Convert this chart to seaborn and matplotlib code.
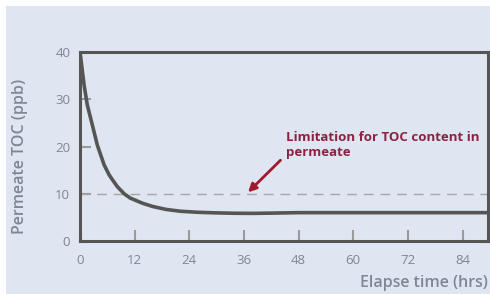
import numpy as np
import pandas as pd
import matplotlib.pyplot as plt
import seaborn as sns
from matplotlib.patches import Rectangle

# ===================== DATOS =====================
horas = [0, 0.9, 1.6, 2.7, 3.8, 5.3, 6.4, 7.1, 8.2, 9.7, 11, 13.7, 16, 18.8, 22,
         26, 30, 34, 38, 42, 48, 60, 72, 84, 90]
toc = [40, 33, 28.8, 24.6, 20.3, 16.1, 14.0, 13.0, 11.5, 10.0, 9.1, 8.0, 7.3, 6.7, 6.3,
       6.07, 5.95, 5.87, 5.85, 5.9, 6.0, 6.0, 6.0, 6.0, 6.0]
limite_toc = 10
xticks = [0, 12, 24, 36, 48, 60, 72, 84]
yticks = [0, 10, 20, 30, 40]

df = pd.DataFrame({"horas": horas, "toc": toc})

# ===================== ESTILO =====================
sns.set_style("white")
plt.rcParams["font.family"] = ["Open Sans", "DejaVu Sans"]

fondo = "#dfe6f1"
gris_txt = "#7d8796"
gris_tick = "#9a9a9a"
oscuro = "#555555"
granate = "#8a2442"

fig = plt.figure(figsize=(4.9, 2.94), dpi=100)
fig.patch.set_facecolor("white")
fig.patches.append(Rectangle((6 / 490, 0), 1, 1 - 6 / 294, transform=fig.transFigure,
                             facecolor=fondo, edgecolor="none", zorder=-5))

ax = fig.add_axes([80 / 490, 53 / 294, 408 / 490, 189 / 294])
ax.set_facecolor(fondo)

# ===================== GRAFICO =====================
ax.axhline(limite_toc, color="#a6a6a6", lw=1, dashes=(7, 5), zorder=1)
sns.lineplot(data=df, x="horas", y="toc", color=oscuro, lw=2.6, ax=ax, zorder=3)

ax.set_xlim(0, 89.6)
ax.set_ylim(0, 40)
ax.set_xticks(xticks)
ax.set_yticks(yticks)

for s in ax.spines.values():
    s.set_color(oscuro)
    s.set_linewidth(2.2)

ax.tick_params(axis="both", direction="in", length=8, width=1.5, color=gris_tick,
               labelcolor=gris_txt, labelsize=9.5, pad=7, bottom=True, left=True)
ax.tick_params(axis="x", pad=9)
# sin marca de tick en 0 ni 40
for t in ax.xaxis.get_major_ticks()[:1] + ax.yaxis.get_major_ticks()[:1] + ax.yaxis.get_major_ticks()[-1:]:
    t.tick1line.set_visible(False)

ax.set_xlabel("")
ax.set_ylabel("")
fig.text(488 / 490, 1 - 283 / 294, "Elapse time (hrs)", ha="right", va="center",
         color=gris_txt, fontsize=11.5, fontweight="semibold")
fig.text(20 / 490, 1 - 156 / 294, "Permeate TOC (ppb)", ha="center", va="center",
         rotation=90, color=gris_txt, fontsize=11.5, fontweight="semibold")

ax.annotate("Limitation for TOC content in\npermeate", xy=(36.9, 10.3), xytext=(45.3, 23.2),
            ha="left", va="top", color=granate, fontsize=9.5, fontweight="bold",
            linespacing=1.15,
            arrowprops=dict(arrowstyle="-|>", color="#a0182c", lw=2,
                            mutation_scale=12, shrinkA=0, shrinkB=0,
                            relpos=(-0.03, -0.05)))

fig.savefig("out.png", dpi=100, facecolor=fig.get_facecolor())
